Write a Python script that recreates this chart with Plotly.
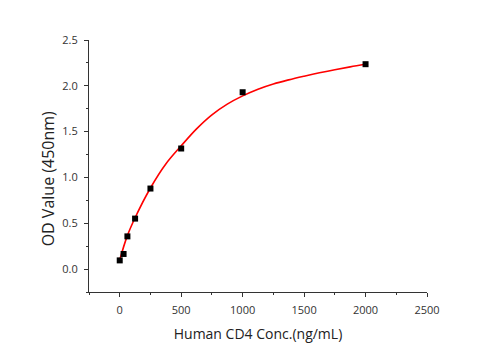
import plotly.graph_objects as go

# measured standards
conc = [0, 31.25, 62.5, 125, 250, 500, 1000, 2000]
od = [0.095, 0.165, 0.357, 0.551, 0.879, 1.316, 1.93, 2.236]

# fitted curve
fit_x = [0, 60, 125, 250, 375, 500, 625, 750, 875, 1000, 1125, 1250, 1375,
         1500, 1625, 1750, 1875, 2000]
fit_y = [0.10, 0.357, 0.56, 0.885, 1.147, 1.345, 1.53, 1.683, 1.80, 1.89, 1.963,
         2.02, 2.065, 2.105, 2.142, 2.176, 2.207, 2.235]

x_ticks = [0, 500, 1000, 1500, 2000, 2500]
y_ticks = [0.0, 0.5, 1.0, 1.5, 2.0, 2.5]

fig = go.Figure()
fig.add_trace(go.Scatter(x=fit_x, y=fit_y, mode="lines",
                         line=dict(color="#ff0000", width=1.6, shape="spline", smoothing=1.0),
                         hoverinfo="skip", showlegend=False))
fig.add_trace(go.Scatter(x=conc, y=od, mode="markers",
                         marker=dict(symbol="square", size=6, color="black"),
                         showlegend=False))

font_family = "Open Sans, DejaVu Sans, sans-serif"
fig.update_layout(
    width=496, height=350,
    margin=dict(l=89, r=69, t=40, b=58),
    plot_bgcolor="white", paper_bgcolor="white",
    font=dict(family=font_family, size=11, color="#333333"),
    xaxis=dict(range=[-250, 2500], tickvals=x_ticks,
               ticktext=[str(v) for v in x_ticks],
               showgrid=False, zeroline=False,
               showline=True, linecolor="#333333", linewidth=1,
               ticks="outside", ticklen=4, tickcolor="#333333", tickwidth=1,
               ticklabelstandoff=4,
               minor=dict(tickvals=[-250, 250, 750, 1250, 1750, 2250], ticks="outside",
                          ticklen=2, tickcolor="#333333"),
               title=dict(text="Human CD4 Conc.(ng/mL)",
                          font=dict(size=14, color="#222222"), standoff=12)),
    yaxis=dict(range=[-0.25, 2.5], tickvals=y_ticks,
               ticktext=["%.1f" % v for v in y_ticks],
               showgrid=False, zeroline=False,
               showline=True, linecolor="#333333", linewidth=1,
               ticks="outside", ticklen=4, tickcolor="#333333", tickwidth=1,
               ticklabelstandoff=4,
               minor=dict(tickvals=[-0.25, 0.25, 0.75, 1.25, 1.75, 2.25], ticks="outside",
                          ticklen=2, tickcolor="#333333")),
    annotations=[dict(text="OD Value (450nm)", xref="paper", yref="paper",
                      x=-0.122, y=0.45, xanchor="center", yanchor="middle",
                      textangle=-90, showarrow=False,
                      font=dict(size=16, color="#222222", family=font_family))],
)

fig.write_html("out.html")
